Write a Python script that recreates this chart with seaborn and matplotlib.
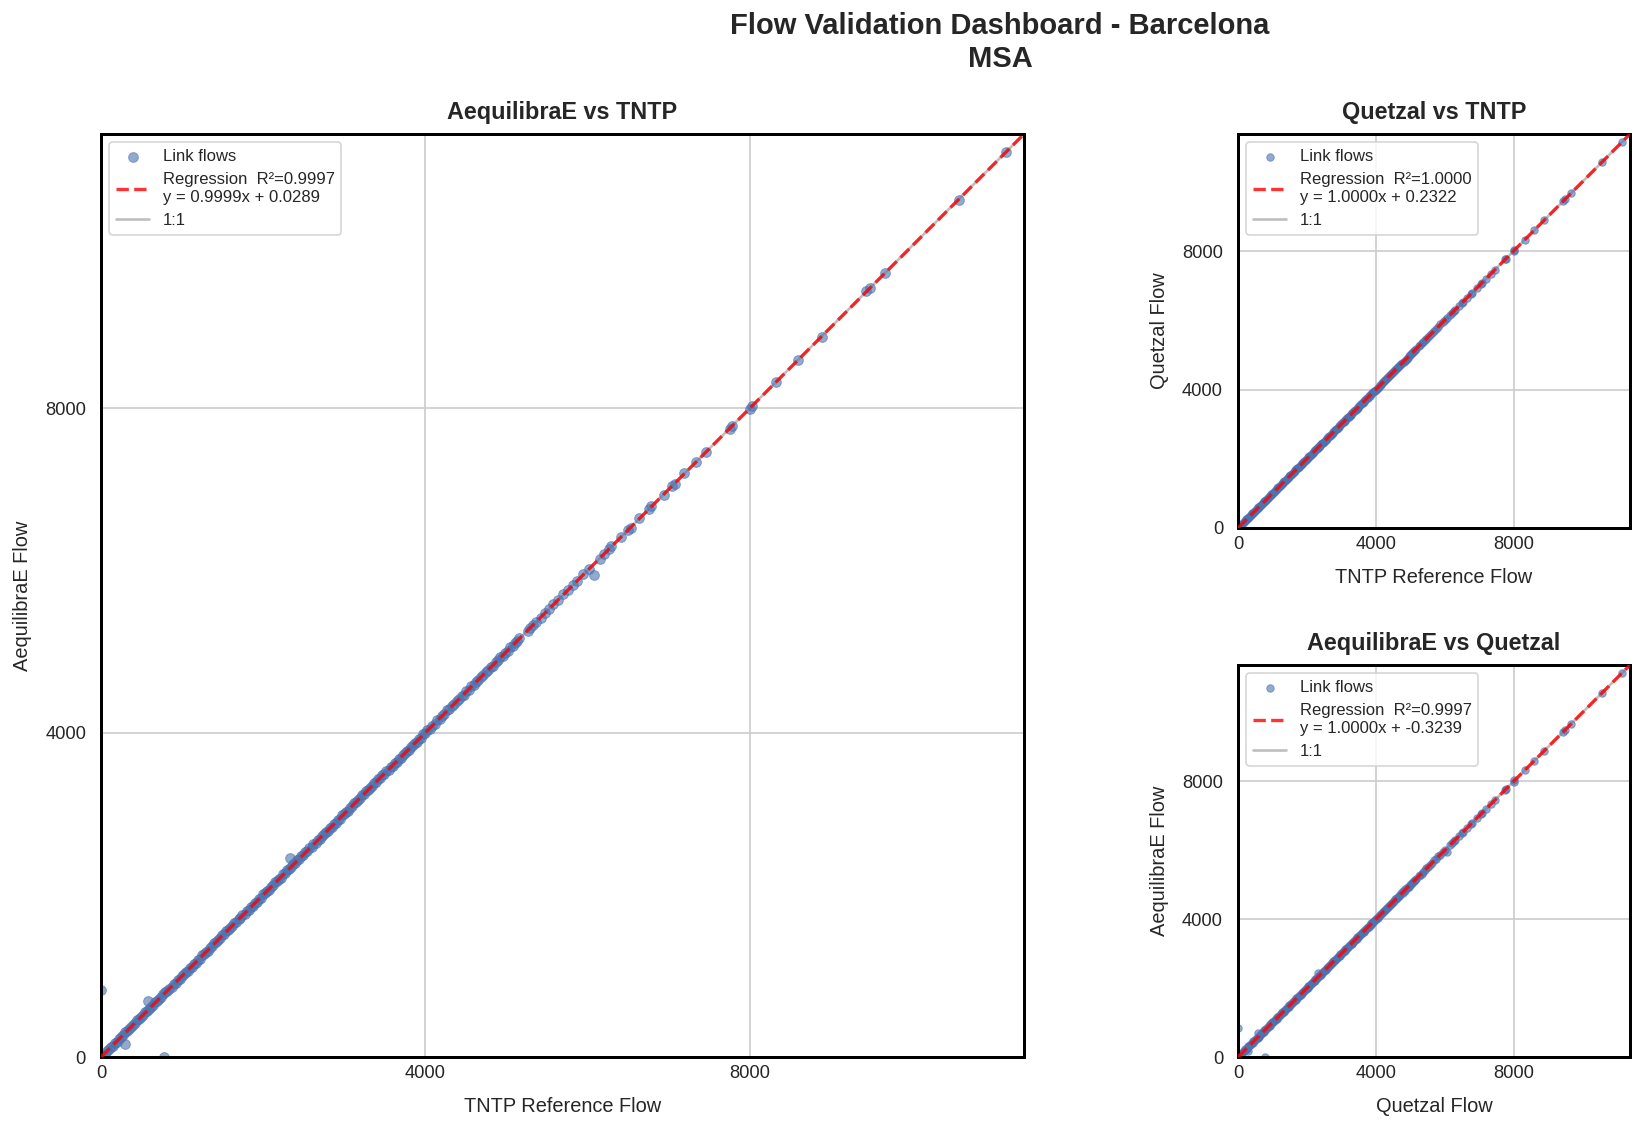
import numpy as np
import pandas as pd
import matplotlib
matplotlib.use("Agg")
import matplotlib.pyplot as plt
import seaborn as sns

# ---------------- data ----------------
tntp_flow = [
    0, 4, 21, 47, 70, 96, 121, 144, 170, 195,
    219, 246, 270, 290, 296, 321, 345, 372, 397, 420,
    446, 471, 494, 520, 545, 568, 580, 594, 620, 644,
    669, 695, 718, 743, 769, 777, 793, 818, 843, 870,
    895, 919, 944, 970, 994, 1020, 1045, 1069, 1095, 1120,
    1144, 1170, 1195, 1219, 1246, 1270, 1294, 1320, 1345, 1369,
    1395, 1420, 1444, 1471, 1495, 1519, 1546, 1570, 1594, 1621,
    1645, 1669, 1696, 1720, 1744, 1771, 1795, 1819, 1846, 1870,
    1894, 1921, 1945, 1969, 1996, 2020, 2046, 2071, 2095, 2121,
    2146, 2170, 2196, 2221, 2245, 2271, 2296, 2320, 2330, 2346,
    2371, 2395, 2421, 2446, 2470, 2496, 2521, 2545, 2571, 2596,
    2620, 2646, 2671, 2695, 2721, 2746, 2770, 2796, 2821, 2845,
    2871, 2896, 2920, 2946, 2971, 2995, 3021, 3046, 3070, 3096,
    3121, 3145, 3171, 3196, 3220, 3246, 3271, 3295, 3321, 3346,
    3370, 3396, 3421, 3445, 3471, 3496, 3520, 3546, 3571, 3595,
    3621, 3646, 3670, 3696, 3721, 3745, 3771, 3796, 3820, 3846,
    3871, 3895, 3921, 3946, 3970, 3996, 4026, 4055, 4086, 4115,
    4146, 4175, 4206, 4235, 4266, 4295, 4326, 4355, 4386, 4415,
    4446, 4475, 4506, 4535, 4566, 4595, 4626, 4655, 4686, 4715,
    4746, 4775, 4806, 4835, 4866, 4895, 4926, 4955, 4986, 5015,
    5046, 5075, 5106, 5135, 5160, 5260, 5290, 5330, 5365, 5420,
    5470, 5525, 5580, 5640, 5700, 5760, 5820, 5876, 5950, 6020,
    6080, 6150, 6206, 6268, 6290, 6410, 6500, 6530, 6640, 6757,
    6785, 6940, 7043, 7080, 7190, 7341, 7457, 7754, 7780, 8000,
    8026, 8324, 8595, 8893, 9437, 9489, 9670, 10576, 11158,
]

aequilibrae_flow = [
    828, 2, 24, 39, 79, 94, 125, 137, 171, 191,
    225, 241, 273, 165, 305, 319, 349, 365, 398, 416,
    452, 466, 497, 512, 554, 566, 690, 587, 621, 640,
    675, 690, 721, 735, 778, 0, 797, 811, 844, 866,
    901, 914, 947, 962, 1003, 1018, 1049, 1062, 1096, 1116,
    1150, 1165, 1198, 1211, 1255, 1268, 1298, 1313, 1346, 1365,
    1401, 1415, 1447, 1463, 1504, 1517, 1550, 1563, 1595, 1617,
    1651, 1664, 1699, 1712, 1753, 1769, 1799, 1812, 1847, 1866,
    1900, 1916, 1948, 1961, 2005, 2018, 2050, 2064, 2096, 2117,
    2152, 2165, 2199, 2213, 2254, 2269, 2300, 2313, 2450, 2342,
    2377, 2390, 2424, 2438, 2479, 2494, 2525, 2538, 2572, 2592,
    2626, 2641, 2674, 2687, 2730, 2744, 2774, 2789, 2822, 2841,
    2877, 2891, 2923, 2938, 2980, 2993, 3025, 3039, 3071, 3092,
    3127, 3140, 3174, 3188, 3229, 3244, 3275, 3288, 3322, 3342,
    3376, 3391, 3424, 3437, 3480, 3494, 3524, 3539, 3572, 3591,
    3627, 3641, 3673, 3688, 3730, 3743, 3775, 3789, 3821, 3842,
    3877, 3890, 3924, 3938, 3979, 3994, 4030, 4048, 4087, 4111,
    4152, 4170, 4209, 4227, 4275, 4293, 4330, 4348, 4387, 4411,
    4452, 4470, 4509, 4527, 4575, 4593, 4630, 4648, 4687, 4711,
    4752, 4770, 4809, 4827, 4875, 4893, 4930, 4948, 4987, 5011,
    5052, 5070, 5109, 5127, 5169, 5258, 5294, 5323, 5366, 5416,
    5476, 5520, 5583, 5632, 5709, 5758, 5824, 5869, 5951, 6016,
    5950, 6145, 6209, 6260, 6299, 6408, 6504, 6523, 6641, 6753,
    6791, 6935, 7046, 7072, 7199, 7339, 7461, 7747, 7781, 7996,
    8032, 8319, 8598, 8885, 9446, 9487, 9674, 10569, 11159,
]

quetzal_flow = [
    1, 7, 20, 49, 67, 97, 119, 147, 169, 197,
    217, 249, 269, 292, 293, 322, 343, 375, 396, 422,
    444, 474, 493, 522, 542, 569, 578, 597, 619, 646,
    667, 698, 717, 745, 766, 778, 791, 821, 842, 872,
    893, 922, 943, 972, 991, 1021, 1043, 1072, 1094, 1122,
    1142, 1173, 1194, 1221, 1243, 1271, 1292, 1323, 1344, 1371,
    1393, 1423, 1443, 1473, 1492, 1520, 1544, 1573, 1593, 1623,
    1643, 1672, 1695, 1722, 1741, 1772, 1793, 1822, 1845, 1872,
    1892, 1924, 1944, 1971, 1993, 2021, 2044, 2074, 2094, 2123,
    2144, 2173, 2195, 2223, 2242, 2272, 2294, 2323, 2329, 2348,
    2369, 2398, 2420, 2448, 2467, 2497, 2519, 2548, 2570, 2598,
    2618, 2649, 2670, 2697, 2718, 2747, 2768, 2799, 2820, 2847,
    2869, 2899, 2919, 2948, 2968, 2996, 3019, 3049, 3069, 3098,
    3119, 3148, 3170, 3198, 3217, 3247, 3269, 3298, 3320, 3348,
    3368, 3399, 3420, 3447, 3468, 3497, 3518, 3549, 3570, 3597,
    3619, 3649, 3669, 3698, 3718, 3746, 3769, 3799, 3819, 3848,
    3869, 3898, 3920, 3948, 3967, 3997, 4024, 4058, 4085, 4117,
    4144, 4178, 4205, 4237, 4263, 4296, 4324, 4358, 4385, 4417,
    4444, 4478, 4505, 4537, 4563, 4596, 4624, 4658, 4685, 4717,
    4744, 4778, 4805, 4837, 4863, 4896, 4924, 4958, 4985, 5017,
    5044, 5078, 5105, 5137, 5157, 5261, 5288, 5333, 5364, 5422,
    5468, 5528, 5579, 5642, 5697, 5761, 5818, 5879, 5949, 6022,
    6078, 6153, 6205, 6270, 6287, 6411, 6498, 6533, 6639, 6759,
    6783, 6943, 7042, 7082, 7187, 7342, 7455, 7757, 7779, 8002,
    8024, 8327, 8594, 8895, 9434, 9490, 9668, 10579, 11157,
]

# regression results shown in the legends: (slope, intercept, R²)
reg_aeq_vs_tntp = [0.9999, 0.0289, 0.9997]
reg_qtz_vs_tntp = [1.0000, 0.2322, 1.0000]
reg_aeq_vs_qtz = [1.0000, -0.3239, 0.9997]

tick_values = [0, 4000, 8000]
tick_labels = ["0", "4000", "8000"]

assert len(tntp_flow) == len(aequilibrae_flow) == len(quetzal_flow)

# ---------------- style ----------------
sns.set_theme(style="whitegrid", context="notebook")
plt.rcParams["font.family"] = ["Liberation Sans", "DejaVu Sans"]

DPI = 120
W, H = 1645, 1136
fig = plt.figure(figsize=(W / DPI, H / DPI), dpi=DPI)


def add_ax(x0, y0, x1, y1):
    return fig.add_axes([x0 / W, 1 - y1 / H, (x1 - x0) / W, (y1 - y0) / H])


ax_main = add_ax(101, 134, 1024, 1057)
ax_tr = add_ax(1238, 134, 1630, 528)
ax_br = add_ax(1238, 665, 1630, 1057)


def panel(ax, x, y, xlabel, ylabel, title, reg, s):
    df = pd.DataFrame({"x": x, "y": y})
    lim = max(max(x), max(y)) * 1.02
    line = np.array([0.0, lim])
    slope, intercept, r2 = reg
    sns.scatterplot(data=df, x="x", y="y", ax=ax, color="#4c72b0", alpha=0.6,
                    s=s, linewidth=0.6, edgecolor="#4c72b0", label="Link flows",
                    zorder=2)
    ax.plot(line, slope * line + intercept, color="red", ls="--", lw=2,
            alpha=0.8, zorder=4,
            label=f"Regression  R²={r2:.4f}\ny = {slope:.4f}x + {intercept:.4f}")
    ax.plot(line, line, color="gray", alpha=0.5, lw=1.6, label="1:1", zorder=1.5)
    ax.set_xlim(0, lim)
    ax.set_ylim(0, lim)
    ax.set_xticks(tick_values)
    ax.set_xticklabels(tick_labels)
    ax.set_yticks(tick_values)
    ax.set_yticklabels(tick_labels)
    ax.tick_params(axis="both", labelsize=11, length=0)
    ax.tick_params(axis="x", pad=5)
    ax.tick_params(axis="y", pad=9)
    ax.set_xlabel(xlabel, fontsize=12, labelpad=9)
    ax.set_ylabel(ylabel, fontsize=12, labelpad=8)
    ax.set_title(title, fontsize=14, fontweight="bold", pad=9)
    for sp in ax.spines.values():
        sp.set_visible(True)
        sp.set_color("black")
        sp.set_linewidth(1.8)
    ax.legend(loc="upper left", fontsize=10, frameon=True)


panel(ax_main, tntp_flow, aequilibrae_flow, "TNTP Reference Flow", "AequilibraE Flow",
      "AequilibraE vs TNTP", reg_aeq_vs_tntp, 34)
panel(ax_tr, tntp_flow, quetzal_flow, "TNTP Reference Flow", "Quetzal Flow",
      "Quetzal vs TNTP", reg_qtz_vs_tntp, 20)
panel(ax_br, quetzal_flow, aequilibrae_flow, "Quetzal Flow", "AequilibraE Flow",
      "AequilibraE vs Quetzal", reg_aeq_vs_qtz, 20)

fig.suptitle("Flow Validation Dashboard - Barcelona\nMSA", x=0.608, y=0.989,
             fontsize=17.5, fontweight="bold", va="top")

fig.savefig("out.png", dpi=DPI)
